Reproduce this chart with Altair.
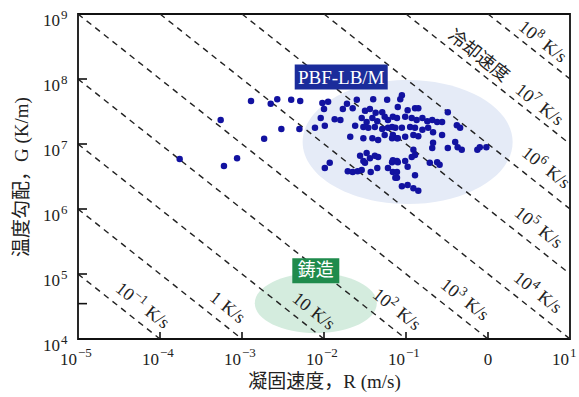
import math
import altair as alt
import pandas as pd

# ---------------- data (log10 values) ----------------
log_R = [-3.76, -3.26, -3.22, -3.06, -2.89, -2.73, -2.65, -2.57, -2.52, -2.40, -2.30, -2.29,
         -2.02, -1.95, -2.00, -1.77, -1.72, -1.65, -1.60, -1.40, -1.23, -1.50, -1.44, -1.37,
         -1.29, -1.26, -2.04, -1.87, -1.80, -1.54, -1.48, -1.41, -1.35, -1.22, -1.16, -2.11,
         -1.99, -1.62, -1.52, -1.46, -1.38, -1.29, -1.22, -1.13, -1.68, -1.52, -1.41, -1.34,
         -1.26, -1.17, -1.11, -1.56, -1.48, -1.44, -1.38, -1.52, -1.50, -1.35, -1.34, -1.17,
         -1.11, -1.22, -1.16, -1.93, -1.99, -1.71, -1.65, -1.59, -1.54, -1.43, -1.11,
         -1.05, -1.07, -1.10, -0.98, -0.89, -0.85, -0.49, -1.11, -1.01, -0.93, -0.87, -0.80,
         -0.74, -0.68, -0.62, -0.56, -0.38, -0.34, -1.17, -1.05, -0.95, -0.89, -0.80, -0.73,
         -0.67, -0.56, -1.16, -1.10, -1.01, -0.91, -0.85, -0.67, -0.68, -0.49, -0.40, -0.37,
         -0.32, -0.13, -0.10, -0.02, -0.91, -0.89, -0.93, -0.71, -0.62, -0.59, -1.16, -1.10,
         -1.01, -0.98, -0.89, -1.11, -1.13, -1.05, -0.98, -0.91, -0.85]
log_G = [6.77, 7.37, 6.66, 6.78, 7.66, 7.08, 7.62, 7.69, 7.23, 7.68, 7.23, 7.66,
         7.63, 7.65, 7.54, 7.54, 7.62, 7.55, 7.68, 7.69, 7.68, 7.51, 7.54, 7.48,
         7.49, 7.42, 7.40, 7.38, 7.37, 7.40, 7.34, 7.40, 7.35, 7.37, 7.42, 7.25,
         7.28, 7.28, 7.26, 7.25, 7.26, 7.23, 7.25, 7.25, 7.11, 7.09, 7.09, 7.06,
         7.14, 7.09, 7.09, 6.82, 6.86, 6.78, 6.82, 6.74, 6.71, 6.63, 6.80, 6.72,
         6.74, 6.63, 6.57, 6.71, 6.63, 6.58, 6.57, 6.58, 6.60, 6.57, 6.48,
         7.75, 7.69, 7.57, 7.52, 7.55, 7.55, 7.49, 7.40, 7.42, 7.40, 7.37, 7.40,
         7.35, 7.37, 7.34, 7.34, 7.29, 7.25, 7.26, 7.25, 7.26, 7.25, 7.22, 7.25,
         7.18, 7.14, 7.14, 7.09, 7.11, 7.14, 7.12, 7.02, 6.94, 6.94, 7.03, 6.95,
         6.91, 6.91, 6.95, 6.95, 6.91, 6.83, 6.80, 6.71, 6.72, 6.68, 6.75, 6.72,
         6.74, 6.65, 6.52, 6.57, 6.48, 6.35, 6.37, 6.32, 6.28]

# iso cooling-rate lines G*R = const (K/s)
rates = [1e0, 1e1, 1e2, 1e3, 1e4, 1e5, 1e6, 1e7, 1e8, 1e9]
rate_label_base = ["10", "1", "10", "10", "10", "10", "10", "10", "10", "10"]
rate_label_exp = ["−1", "", "", "2", "3", "4", "5", "6", "7", "8"]
rate_label_logR = [-4.22, -3.18, -2.13, -1.12, -0.29, 0.60, 0.61, 0.70, 0.62, 0.66]
rate_label_logG = [4.51, 4.48, 4.42, 4.45, 4.60, 4.71, 5.71, 6.63, 7.60, 8.57]

x_ticks = [1e-5, 1e-4, 1e-3, 1e-2, 1e-1, 1e0, 1e1]
x_tick_base = ["10", "10", "10", "10", "10", "0", "10"]
x_tick_exp = ["−5", "−4", "−3", "−2", "−1", "", "1"]
y_ticks = [1e4, 1e5, 1e6, 1e7, 1e8, 1e9]
y_tick_base = ["10", "10", "10", "10", "10", "10"]
y_tick_exp = ["4", "5", "6", "7", "8", "9"]
y_extra_tick = [3.5e4]

R_MIN, R_MAX = 1e-5, 1e1
G_MIN, G_MAX = 1e4, 1e9

# ---------------- layout ----------------
PW, PH = 492, 325
PX_PER_DEC_X = PW / math.log10(R_MAX / R_MIN)
PX_PER_DEC_Y = PH / math.log10(G_MAX / G_MIN)
ANGLE = math.degrees(math.atan(PX_PER_DEC_Y / PX_PER_DEC_X))

# ---------------- tables ----------------
pts = pd.DataFrame({"R": [10 ** v for v in log_R], "G": [10 ** v for v in log_G]})

line_rows = []
for c in rates:
    r0 = max(R_MIN, c / G_MAX)
    r1 = min(R_MAX, c / G_MIN)
    line_rows.append({"c": c, "R": r0, "G": c / r0})
    line_rows.append({"c": c, "R": r1, "G": c / r1})
lines_df = pd.DataFrame(line_rows)

# text width estimate (Times metrics) for laying out rotated labels part by part
W = {"−": .564, " ": .25, "K": .722, "/": .278, "s": .389}
def tw(s, fs):
    return sum(W.get(ch, .5) for ch in s) * fs

BASE_FS, SUP_FS = 18, 13
ca, sa = math.cos(math.radians(ANGLE)), math.sin(math.radians(ANGLE))
def along(lr, lg, d):
    """shift a point by d pixels along the rotated text direction"""
    return 10 ** (lr + d * ca / PX_PER_DEC_X), 10 ** (lg - d * sa / PX_PER_DEC_Y)

rate_parts = []
for b, e, lr, lg in zip(rate_label_base, rate_label_exp, rate_label_logR, rate_label_logG):
    tail = "K/s"
    gap = tw(" ", BASE_FS) + 1
    total = tw(b, BASE_FS) + tw(e, SUP_FS) + gap + tw(tail, BASE_FS)
    pos = -total / 2
    R_, G_ = along(lr, lg, pos)
    rate_parts.append({"R": R_, "G": G_, "t": b, "kind": "base"})
    pos += tw(b, BASE_FS)
    if e:
        R_, G_ = along(lr, lg, pos + 0.5)
        rate_parts.append({"R": R_, "G": G_, "t": e, "kind": "sup"})
        pos += tw(e, SUP_FS) + 0.5
    pos += gap
    R_, G_ = along(lr, lg, pos)
    rate_parts.append({"R": R_, "G": G_, "t": tail, "kind": "base"})
rate_df = pd.DataFrame(rate_parts)

xt_df = pd.DataFrame({"R": x_ticks, "b": x_tick_base, "e": x_tick_exp})
yt_df = pd.DataFrame({"G": y_ticks, "b": y_tick_base, "e": y_tick_exp})

xs = alt.Scale(type="log", domain=[R_MIN, R_MAX], nice=False)
ys = alt.Scale(type="log", domain=[G_MIN, G_MAX], nice=False)

SERIF = "Liberation Serif, Times New Roman, serif"
CJK = "Liberation Serif, Noto Sans CJK JP"

x_axis = alt.Axis(
    labels=False, ticks=False, domain=False, grid=False,
    title="凝固速度，R\u00a0(m/s)", titleFont=CJK, titleFontSize=19, titleFontWeight="normal",
    titleColor="#222", titlePadding=33)
y_axis = alt.Axis(
    labels=False, ticks=False, domain=False, grid=False,
    title="温度勾配，G\u00a0(K/m)", titleFont=CJK, titleFontSize=19, titleFontWeight="normal",
    titleColor="#222", titlePadding=47)
X = alt.X("R:Q", scale=xs, axis=x_axis)
Y = alt.Y("G:Q", scale=ys, axis=y_axis)

def ellipse_path(ratio):
    k = 0.5523
    r = ratio
    return (f"M -1 0 C -1 {-k*r:.4f} {-k:.4f} {-r:.4f} 0 {-r:.4f} "
            f"C {k:.4f} {-r:.4f} 1 {-k*r:.4f} 1 0 "
            f"C 1 {k*r:.4f} {k:.4f} {r:.4f} 0 {r:.4f} "
            f"C {-k:.4f} {r:.4f} -1 {k*r:.4f} -1 0 Z")

def rect_path(ratio):
    return f"M -1 {-ratio:.4f} L 1 {-ratio:.4f} L 1 {ratio:.4f} L -1 {ratio:.4f} Z"

# annotation placements (data units)
pbf_center = pd.DataFrame({"R": [10 ** -0.98], "G": [10 ** 7.03]})
cast_center = pd.DataFrame({"R": [10 ** -2.10], "G": [10 ** 4.55]})
pbf_box = pd.DataFrame({"R": [10 ** -1.79], "G": [10 ** 8.03], "t": ["PBF-LB/M"]})
cast_box = pd.DataFrame({"R": [10 ** -2.10], "G": [10 ** 5.05], "t": ["鋳造"]})
cool_title = pd.DataFrame({"R": [10 ** -0.12], "G": [10 ** 8.35], "t": ["冷却速度"]})

pbf_ell = alt.Chart(pbf_center).mark_point(
    shape=ellipse_path(0.59), filled=True, color="#e5ebf7", opacity=1, size=210 ** 2, strokeWidth=0
).encode(x=X, y=Y)
cast_ell = alt.Chart(cast_center).mark_point(
    shape=ellipse_path(0.49), filled=True, color="#d4ecde", opacity=1, size=122 ** 2, strokeWidth=0
).encode(x=X, y=Y)

iso = alt.Chart(lines_df).mark_line(
    strokeDash=[6, 5], color="#222222", strokeWidth=1.4, clip=True
).encode(x=X, y=Y, detail="c:N")

dots = alt.Chart(pts).mark_circle(size=42, color="#1212a0", opacity=1).encode(x=X, y=Y)

pbf_rect = alt.Chart(pbf_box).mark_point(
    shape=rect_path(0.269), filled=True, color="#1b2c9b", opacity=1, size=93 ** 2, strokeWidth=0
).encode(x=X, y=Y)
pbf_txt = alt.Chart(pbf_box).mark_text(
    font=SERIF, fontSize=19, color="white", align="center", baseline="middle", dy=1
).encode(x=X, y=Y, text="t:N")
cast_rect = alt.Chart(cast_box).mark_point(
    shape=rect_path(0.532), filled=True, color="#1f8b4c", opacity=1, size=47 ** 2, strokeWidth=0
).encode(x=X, y=Y)
cast_txt = alt.Chart(cast_box).mark_text(
    font="Noto Sans CJK JP", fontSize=18, color="white", align="center", baseline="middle"
).encode(x=X, y=Y, text="t:N")

rate_base = alt.Chart(rate_df).transform_filter("datum.kind == 'base'").mark_text(
    font=SERIF, fontSize=BASE_FS, color="#222", angle=ANGLE, align="left", baseline="alphabetic", dy=5
).encode(x=X, y=Y, text="t:N")
rate_sup = alt.Chart(rate_df).transform_filter("datum.kind == 'sup'").mark_text(
    font=SERIF, fontSize=SUP_FS, color="#222", angle=ANGLE, align="left", baseline="alphabetic", dy=-2
).encode(x=X, y=Y, text="t:N")
cool_txt = alt.Chart(cool_title).mark_text(
    font="Noto Sans CJK JP", fontSize=18, color="#222", angle=ANGLE, align="center", baseline="middle"
).encode(x=X, y=Y, text="t:N")

# tick labels  10^n  built from base + superscript
xl_base = alt.Chart(xt_df).transform_filter("datum.e != ''").mark_text(
    font=SERIF, fontSize=17, color="#222", align="right", baseline="alphabetic", dx=-1
).encode(x=X, y=alt.value(PH + 26), text="b:N")
xl_plain = alt.Chart(xt_df).transform_filter("datum.e == ''").mark_text(
    font=SERIF, fontSize=17, color="#222", align="center", baseline="alphabetic"
).encode(x=X, y=alt.value(PH + 26), text="b:N")
xl_sup = alt.Chart(xt_df).transform_filter("datum.e != ''").mark_text(
    font=SERIF, fontSize=13, color="#222", align="left", baseline="alphabetic", dx=0
).encode(x=X, y=alt.value(PH + 18), text="e:N")
yl_base = alt.Chart(yt_df).mark_text(
    font=SERIF, fontSize=17, color="#222", align="right", baseline="alphabetic", dy=12
).encode(y=Y, x=alt.value(-18), text="b:N")
yl_sup = alt.Chart(yt_df).mark_text(
    font=SERIF, fontSize=13, color="#222", align="left", baseline="alphabetic", dy=5
).encode(y=Y, x=alt.value(-17), text="e:N")

xt = alt.Chart(pd.DataFrame({"R": x_ticks[1:-1]})).mark_rule(color="#111", strokeWidth=1.6).encode(
    x=X, y=alt.value(PH), y2=alt.value(PH - 7))
yt = alt.Chart(pd.DataFrame({"G": y_ticks[1:-1] + y_extra_tick})).mark_rule(color="#111", strokeWidth=1.6).encode(
    y=Y, x=alt.value(0), x2=alt.value(9))

chart = alt.layer(
    pbf_ell, cast_ell, iso, dots, xt, yt, pbf_rect, pbf_txt, cast_rect, cast_txt,
    rate_base, rate_sup, cool_txt, xl_base, xl_plain, xl_sup, yl_base, yl_sup
).properties(
    width=PW, height=PH,
    padding={"left": 78, "top": 14, "right": 9, "bottom": 58},
    autosize=alt.AutoSizeParams(type="none"),
    background="white",
).configure_view(stroke="#111", strokeWidth=1.8)

chart.save("out.html", embed_options={"renderer": "svg", "actions": False})
